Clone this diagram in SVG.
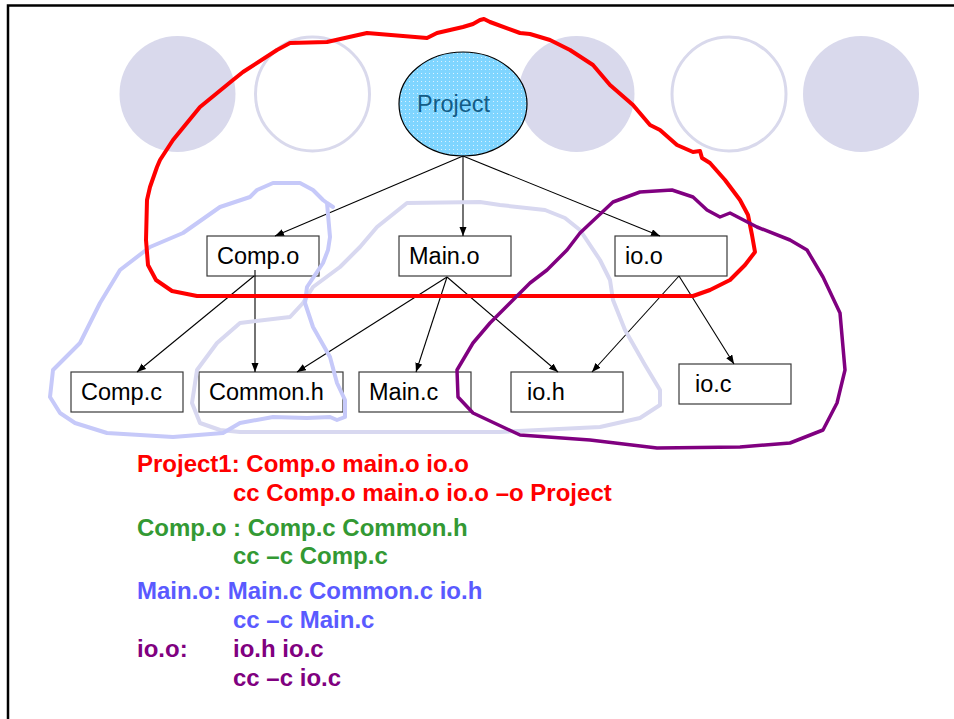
<svg xmlns="http://www.w3.org/2000/svg" width="954" height="719" viewBox="0 0 954 719">
<style>
.bg{fill:#ffffff}
.frame{stroke:#000;stroke-width:2.5;fill:none}
.dotf{fill:#D9D9EC}
.doto{fill:none;stroke:#D9D9EC;stroke-width:3}
.box{fill:#fff;stroke:#3a3a3a;stroke-width:1.2}
.lbl{font-family:"Liberation Sans",Arial,sans-serif;font-size:23.5px;fill:#000}
.conn{stroke:#000;stroke-width:1.1;fill:none;marker-end:url(#ah)}
.hand{fill:none;stroke-linejoin:round;stroke-linecap:round}
.code{font-family:"Liberation Sans",Arial,sans-serif;font-size:24px;font-weight:bold}
</style>
<defs>
<marker id="ah" markerUnits="userSpaceOnUse" markerWidth="10" markerHeight="8" refX="9" refY="3.5" orient="auto">
<path d="M0,0 L9,3.5 L0,7 Z" fill="#000"/>
</marker>
<pattern id="dots" width="4" height="4" patternUnits="userSpaceOnUse">
<rect width="4" height="4" fill="#7FD5FF"/>
<rect x="1" y="1" width="1" height="1" fill="#ffffff" opacity="0.7"/>
</pattern>
</defs>
<rect class="bg" width="954" height="719"/>
<path class="frame" d="M8,719 L8,5.5 L954,5.5"/>
<g id="decor">
<circle class="dotf" cx="177.5" cy="94" r="58"/>
<circle class="doto" cx="312.5" cy="94" r="57"/>
<circle class="dotf" cx="576.5" cy="94" r="58"/>
<circle class="doto" cx="729" cy="94" r="57"/>
<circle class="dotf" cx="861" cy="94" r="58"/>
</g>
<g id="project">
<ellipse cx="463" cy="104" rx="64" ry="52" fill="url(#dots)" stroke="#000" stroke-width="1.2"/>
<text x="417" y="112" class="lbl" style="fill:#135C86">Project</text>
</g>
<g id="comp-o"><rect class="box" x="207" y="236" width="112" height="40"/><text class="lbl" x="217" y="264">Comp.o</text></g>
<g id="main-o"><rect class="box" x="399" y="236" width="112" height="40"/><text class="lbl" x="409" y="264">Main.o</text></g>
<g id="io-o"><rect class="box" x="615" y="236" width="112" height="40"/><text class="lbl" x="625" y="264">io.o</text></g>
<g id="comp-c"><rect class="box" x="71" y="372" width="112" height="40"/><text class="lbl" x="81" y="400">Comp.c</text></g>
<g id="common-h"><rect class="box" x="199" y="372" width="144" height="40"/><text class="lbl" x="209" y="400">Common.h</text></g>
<g id="main-c"><rect class="box" x="359" y="372" width="112" height="40"/><text class="lbl" x="369" y="400">Main.c</text></g>
<g id="io-h"><rect class="box" x="511" y="372" width="112" height="40"/><text class="lbl" x="527" y="400">io.h</text></g>
<g id="io-c"><rect class="box" x="679" y="364" width="112" height="40"/><text class="lbl" x="695" y="392">io.c</text></g>
<g id="connectors">
<path class="conn" d="M463,156 L275,236"/>
<path class="conn" d="M463,156 L463,236"/>
<path class="conn" d="M463,156 L660,236"/>
<path class="conn" d="M254,276 L137,372"/>
<path class="conn" d="M255,270 L255,372"/>
<path class="conn" d="M447,277 L297,372"/>
<path class="conn" d="M447,277 L416,372"/>
<path class="conn" d="M447,277 L558,372"/>
<path class="conn" d="M679,276 L592,372"/>
<path class="conn" d="M679,276 L734,364"/>
</g>
<g id="annotations">
<path class="hand" stroke="#D8D8F0" stroke-width="4" d="M480,202 L407,203 L377,227 L360,247 L340,267 L313,287 L303,303 L290,317 L240,323 L217,343 L197,370 L192,403 L200,423 L220,430 L240,432 L400,432 L500,432 L600,427 L640,418 L660,405 L660,390 L645,365 L625,330 L613,300 L610,280 L600,260 L580,230 L565,218 L545,210 L500,205 Z"/>
<path class="hand" stroke="#C6C9F9" stroke-width="4" d="M333,207 L327,203 L330,237 L328,250 L323,263 L307,287 L305,303 L313,327 L330,357 L337,383 L345,400 L345,417 L337,420 L330,417 L307,418 L273,417 L240,423 L223,433 L173,437 L107,433 L75,423 L60,413 L50,397 L53,370 L70,353 L80,343 L100,303 L120,270 L150,247 L183,233 L220,207 L250,197 L257,190 L273,183 L300,183 L313,190 L323,200 L327,203"/>
<path class="hand" stroke="#FF0000" stroke-width="4" d="M147,200 L150,187 L157,167 L160,160 L173,140 L200,107 L233,80 L243,72 L277,50 L290,43 L327,42 L367,33 L427,38 L437,33 L463,27 L473,24 L480,20 L484,19 L490,22 L520,33 L530,34 L550,40 L570,50 L593,65 L610,85 L633,105 L650,125 L660,130 L677,145 L693,152 L700,151 L702,158 L710,163 L725,180 L740,200 L748,215 L752,235 L755,252 L745,265 L730,280 L710,290 L693,296 L197,296 L172,291 L156,280 L148,265 L146,240 Z"/>
<path class="hand" stroke="#800080" stroke-width="3.5" d="M672,190 L640,192 L613,202 L597,217 L580,233 L567,250 L547,270 L530,283 L513,300 L490,323 L473,343 L457,370 L458,397 L473,413 L520,435 L590,440 L657,448 L740,447 L790,443 L823,430 L837,403 L845,370 L840,313 L823,277 L807,250 L790,240 L757,227 L730,213 L720,217 L707,210 L693,197 Z"/>
</g>
<g id="makefile">
<text class="code" fill="#FF0000" x="137" y="472">Project1: Comp.o main.o io.o</text>
<text class="code" fill="#FF0000" x="233" y="501">cc Comp.o main.o io.o –o Project</text>
<text class="code" fill="#339933" x="137" y="536">Comp.o : Comp.c Common.h</text>
<text class="code" fill="#339933" x="233" y="564">cc –c Comp.c</text>
<text class="code" fill="#5A5AFF" x="137" y="599">Main.o: Main.c Common.c io.h</text>
<text class="code" fill="#5A5AFF" x="233" y="628">cc –c Main.c</text>
<text class="code" fill="#800080" x="137" y="657">io.o:</text>
<text class="code" fill="#800080" x="233" y="657">io.h io.c</text>
<text class="code" fill="#800080" x="233" y="686">cc –c io.c</text>
</g>
</svg>
